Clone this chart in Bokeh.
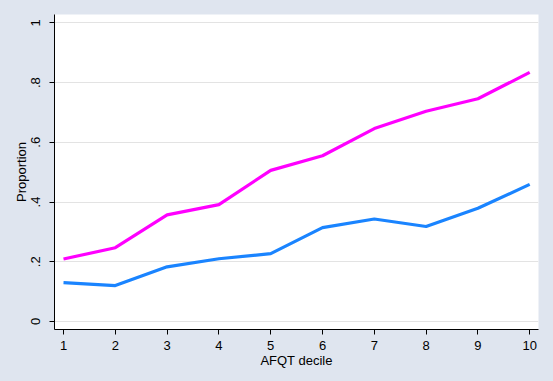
from bokeh.plotting import figure
from bokeh.models import FixedTicker, Range1d, GlobalInlineStyleSheet
from bokeh.embed import file_html
from bokeh.resources import INLINE

deciles = [1, 2, 3, 4, 5, 6, 7, 8, 9, 10]
series_magenta = [0.209, 0.247, 0.357, 0.391, 0.506, 0.555, 0.646, 0.704, 0.746, 0.834]
series_blue = [0.130, 0.120, 0.183, 0.210, 0.227, 0.314, 0.343, 0.318, 0.379, 0.459]
y_ticks = [0, 0.2, 0.4, 0.6, 0.8, 1]
y_tick_labels = ["0", ".2", ".4", ".6", ".8", "1"]

BG = "#DFE5EF"
FONT = "Liberation Sans"

p = figure(width=545, height=373, output_backend="svg", toolbar_location=None,
           x_range=Range1d(0.826, 10.17), y_range=Range1d(-0.027, 1.028),
           min_border_left=54, min_border_right=7, min_border_top=14, min_border_bottom=44)
p.stylesheets = [GlobalInlineStyleSheet(css="body{background-color:%s;}" % BG)]
p.background_fill_color = "white"
p.border_fill_color = BG
p.outline_line_color = None

p.line(deciles, series_blue, line_color="#1A84FF", line_width=3.2)
p.line(deciles, series_magenta, line_color="#FF00FF", line_width=3.2)

p.xgrid.grid_line_color = None
p.ygrid.grid_line_color = "#E3E3E3"
p.ygrid.grid_line_width = 1

p.xaxis.ticker = FixedTicker(ticks=deciles)
p.yaxis.ticker = FixedTicker(ticks=y_ticks)
p.yaxis.major_label_overrides = {t: l for t, l in zip(y_ticks, y_tick_labels)}
p.yaxis.major_label_orientation = "vertical"

for ax in (p.xaxis, p.yaxis):
    ax.axis_line_color = "black"
    ax.axis_line_width = 1
    ax.major_tick_line_color = "black"
    ax.major_tick_out = 5
    ax.major_tick_in = 0
    ax.minor_tick_line_color = None
    ax.major_label_text_font = FONT
    ax.major_label_text_font_size = "13px"
    ax.major_label_text_color = "black"
    ax.axis_label_text_font = FONT
    ax.axis_label_text_font_size = "13px"
    ax.axis_label_text_font_style = "normal"
    ax.axis_label_text_color = "black"

p.xaxis.major_label_standoff = 6
p.xaxis.axis_label_standoff = 0
p.yaxis.major_label_standoff = 9
p.yaxis.axis_label_standoff = 0

p.xaxis.axis_label = "AFQT decile"
p.yaxis.axis_label = "Proportion"

open("out.html", "w").write(file_html(p, INLINE))
